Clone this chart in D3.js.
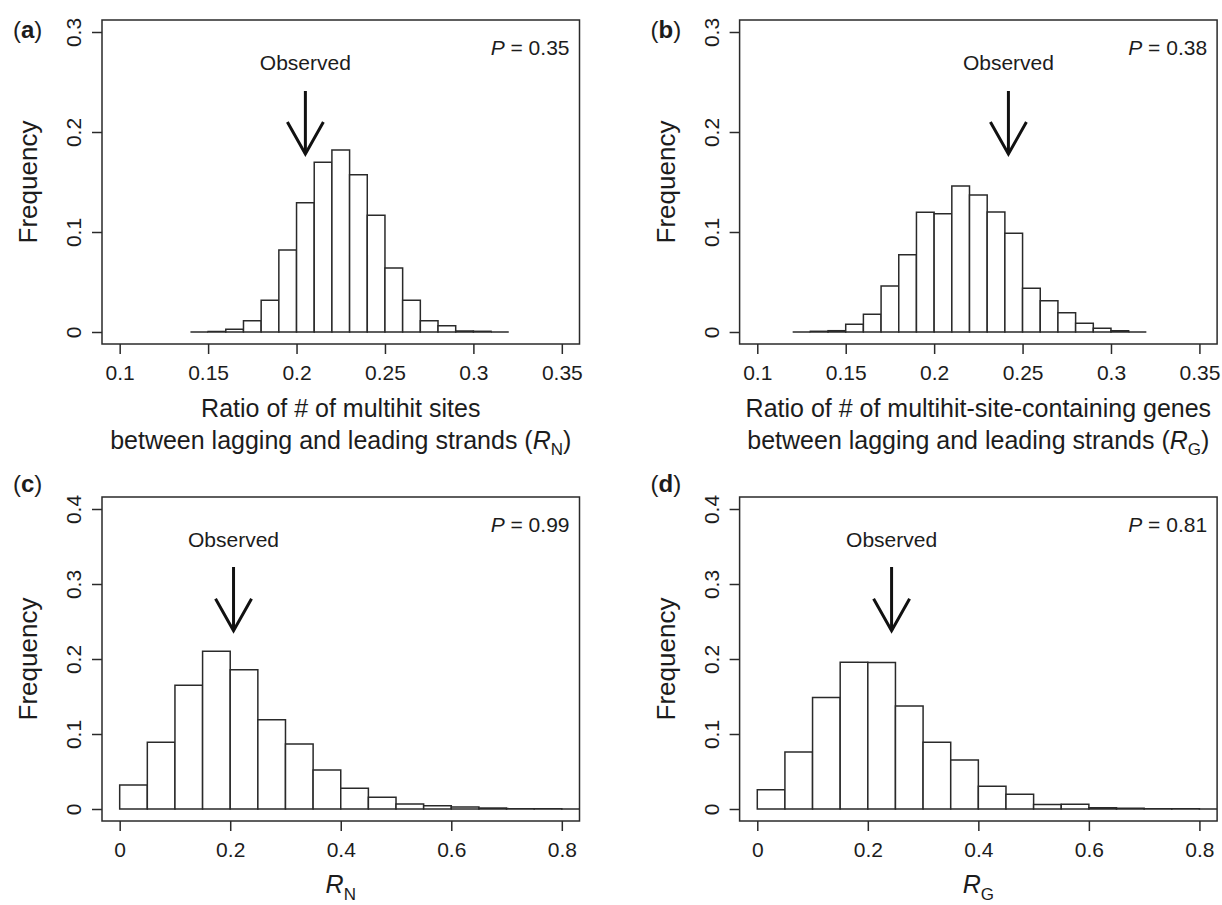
<!DOCTYPE html>
<html>
<head>
<meta charset="utf-8">
<script src="https://cdn.jsdelivr.net/npm/d3@7"></script>
<style>
  body { margin: 0; background: #fff; }
  text { font-family: "Liberation Sans", Arial, Helvetica, sans-serif; fill: #1c1c1c; }
</style>
</head>
<body>
<div id="chart"></div>
<script>
// ---- data ----
// (a) R_N, bins of 0.01
var edgesA = [0.14, 0.15, 0.16, 0.17, 0.18, 0.19, 0.20, 0.21, 0.22, 0.23, 0.24, 0.25, 0.26, 0.27, 0.28, 0.29, 0.30, 0.31, 0.32];
var freqA  = [0, 0.0005, 0.0027, 0.0113, 0.0317, 0.082, 0.1293, 0.1697, 0.182, 0.1573, 0.1167, 0.064, 0.0317, 0.0113, 0.0063, 0.001, 0.0007, 0];
// (b) R_G, bins of 0.01
var edgesB = [0.12, 0.13, 0.14, 0.15, 0.16, 0.17, 0.18, 0.19, 0.20, 0.21, 0.22, 0.23, 0.24, 0.25, 0.26, 0.27, 0.28, 0.29, 0.30, 0.31, 0.32];
var freqB  = [0, 0.0007, 0.0013, 0.0077, 0.0177, 0.046, 0.0773, 0.1197, 0.1183, 0.146, 0.137, 0.120, 0.0987, 0.0437, 0.0313, 0.0193, 0.0087, 0.0037, 0.0013, 0];
// (c) R_N, bins of 0.05
var edgesC = [0, 0.05, 0.10, 0.15, 0.20, 0.25, 0.30, 0.35, 0.40, 0.45, 0.50, 0.55, 0.60, 0.65, 0.70, 0.75, 0.80, 0.85];
var freqC  = [0.032, 0.089, 0.165, 0.2105, 0.1856, 0.119, 0.0868, 0.052, 0.0276, 0.0156, 0.0067, 0.0045, 0.0027, 0.0013, 0.0005, 0.0002, 0.0001];
// (d) R_G, bins of 0.05
var edgesD = [0, 0.05, 0.10, 0.15, 0.20, 0.25, 0.30, 0.35, 0.40, 0.45, 0.50, 0.55, 0.60, 0.65, 0.70, 0.75, 0.80, 0.85];
var freqD  = [0.0258, 0.076, 0.1486, 0.1958, 0.1954, 0.1375, 0.089, 0.0654, 0.0303, 0.0196, 0.006, 0.0062, 0.0018, 0.0009, 0.0004, 0.0002, 0.0001];

var xTicksTop = [0.1, 0.15, 0.2, 0.25, 0.3, 0.35];
var xLabelsTop = ["0.1", "0.15", "0.2", "0.25", "0.3", "0.35"];
var xTicksBot = [0, 0.2, 0.4, 0.6, 0.8];
var xLabelsBot = ["0", "0.2", "0.4", "0.6", "0.8"];
var yTicksTop = [0, 0.1, 0.2, 0.3];
var yLabelsTop = ["0", "0.1", "0.2", "0.3"];
var yTicksBot = [0, 0.1, 0.2, 0.3, 0.4];
var yLabelsBot = ["0", "0.1", "0.2", "0.3", "0.4"];

var panelLabels = ["a", "b", "c", "d"];
var pValues = ["0.35", "0.38", "0.99", "0.81"];
var observed = [0.205, 0.242, 0.206, 0.243];      // observed ratio (arrow x)
var obsTextY = [0.262, 0.262, 0.350, 0.350];      // "Observed" baseline
var arrowTop = [0.241, 0.241, 0.3227, 0.3227];
var arrowTip = [0.178, 0.178, 0.2377, 0.2377];

// ---- layout ----
var W = 1222, H = 905;
var ink = "#2a2a2a";
var svg = d3.select("#chart").append("svg").attr("width", W).attr("height", H);

var panels = [
  {x0: 102,   y0: 20,  edges: edgesA, freq: freqA, xDom: [0.1, 0.35], yDom: [0, 0.3], xt: xTicksTop, xl: xLabelsTop, yt: yTicksTop, yl: yLabelsTop, sub: "N", top: true,  labY: 38},
  {x0: 739.6, y0: 20,  edges: edgesB, freq: freqB, xDom: [0.1, 0.35], yDom: [0, 0.3], xt: xTicksTop, xl: xLabelsTop, yt: yTicksTop, yl: yLabelsTop, sub: "G", top: true,  labY: 38},
  {x0: 102,   y0: 497, edges: edgesC, freq: freqC, xDom: [0, 0.8],    yDom: [0, 0.4], xt: xTicksBot, xl: xLabelsBot, yt: yTicksBot, yl: yLabelsBot, sub: "N", top: false, labY: 492},
  {x0: 739.6, y0: 497, edges: edgesD, freq: freqD, xDom: [0, 0.8],    yDom: [0, 0.4], xt: xTicksBot, xl: xLabelsBot, yt: yTicksBot, yl: yLabelsBot, sub: "G", top: false, labY: 492}
];
var bw = 477.5, bh = 324;

function ext(dom) { var r = dom[1] - dom[0]; return [dom[0] - 0.04 * r, dom[1] + 0.04 * r]; }

panels.forEach(function (p, k) {
  var g = svg.append("g");
  var x = d3.scaleLinear().domain(ext(p.xDom)).range([p.x0, p.x0 + bw]);
  var y = d3.scaleLinear().domain(ext(p.yDom)).range([p.y0 + bh, p.y0]);

  var clipId = "clip" + k;
  svg.append("clipPath").attr("id", clipId).append("rect")
    .attr("x", p.x0).attr("y", p.y0).attr("width", bw).attr("height", bh);

  // histogram bars (zero bars still draw as a baseline)
  var bins = p.freq.map(function (f, i) { return {x1: p.edges[i], x2: p.edges[i + 1], f: f}; });
  g.append("g").attr("clip-path", "url(#" + clipId + ")")
    .selectAll("path").data(bins).enter().append("path")
    .attr("d", function (d) {
      return "M" + x(d.x1) + "," + y(0) + "V" + y(d.f) + "H" + x(d.x2) + "V" + y(0) + "Z";
    })
    .attr("fill", "#fff").attr("stroke", ink).attr("stroke-width", 1.5);

  // box
  g.append("rect").attr("x", p.x0).attr("y", p.y0).attr("width", bw).attr("height", bh)
    .attr("fill", "none").attr("stroke", ink).attr("stroke-width", 1.5);

  // x axis
  var xa = g.append("g").attr("transform", "translate(0," + (p.y0 + bh) + ")")
    .call(d3.axisBottom(x).tickValues(p.xt).tickSize(10).tickFormat(function (d, i) { return p.xl[i]; }));
  xa.select(".domain").remove();
  xa.selectAll("line").attr("stroke", ink).attr("stroke-width", 1.5);
  xa.selectAll("text").attr("y", 36).attr("dy", null)
    .style("font-size", "21px").style("font-family", "Liberation Sans, Arial, sans-serif").attr("fill", "#1c1c1c");

  // y axis (rotated labels, as in R)
  var ya = g.append("g").attr("transform", "translate(" + p.x0 + ",0)")
    .call(d3.axisLeft(y).tickValues(p.yt).tickSize(10).tickFormat(function (d, i) { return p.yl[i]; }));
  ya.select(".domain").remove();
  ya.selectAll("line").attr("stroke", ink).attr("stroke-width", 1.5);
  ya.selectAll("text").attr("x", null).attr("dy", null)
    .attr("transform", "translate(-21,0) rotate(-90)").attr("text-anchor", "middle")
    .style("font-size", "21px").style("font-family", "Liberation Sans, Arial, sans-serif").attr("fill", "#1c1c1c");

  // y title
  g.append("text").attr("transform", "translate(" + (p.x0 - 65) + "," + (p.y0 + bh / 2) + ") rotate(-90)")
    .attr("text-anchor", "middle").style("font-size", "26px").text("Frequency");

  // x title
  var cx = p.x0 + bw / 2, by = p.y0 + bh;
  if (p.top) {
    var l1 = k === 0 ? "Ratio of # of multihit sites" : "Ratio of # of multihit-site-containing genes";
    g.append("text").attr("x", cx).attr("y", by + 73).attr("text-anchor", "middle")
      .style("font-size", "25px").text(l1);
    var t2 = g.append("text").attr("x", cx).attr("y", by + 105).attr("text-anchor", "middle")
      .style("font-size", "25px");
    t2.append("tspan").text("between lagging and leading strands (");
    t2.append("tspan").style("font-style", "italic").text("R");
    t2.append("tspan").attr("dy", 6).style("font-size", "17px").text(p.sub);
    t2.append("tspan").attr("dy", -6).text(")");
  } else {
    var t3 = g.append("text").attr("x", cx).attr("y", by + 72).attr("text-anchor", "middle")
      .style("font-size", "25px");
    t3.append("tspan").style("font-style", "italic").text("R");
    t3.append("tspan").attr("dy", 7).style("font-size", "17px").text(p.sub);
  }

  // P value
  var pt = g.append("text").attr("x", p.x0 + bw - 10).attr("y", p.y0 + 35).attr("text-anchor", "end")
    .style("font-size", "21px");
  pt.append("tspan").style("font-style", "italic").text("P");
  pt.append("tspan").text(" = " + pValues[k]);

  // observed arrow
  var ax = x(observed[k]);
  g.append("text").attr("x", ax).attr("y", y(obsTextY[k])).attr("text-anchor", "middle")
    .style("font-size", "21px").text("Observed");
  g.append("line").attr("x1", ax).attr("x2", ax).attr("y1", y(arrowTop[k])).attr("y2", y(arrowTip[k]))
    .attr("stroke", "#111").attr("stroke-width", 3);
  var tipY = y(arrowTip[k]);
  g.append("path")
    .attr("d", "M" + (ax - 18) + "," + (tipY - 32) + "L" + ax + "," + tipY + "L" + (ax + 18) + "," + (tipY - 32))
    .attr("fill", "none").attr("stroke", "#111").attr("stroke-width", 3).attr("stroke-linejoin", "miter");

  // panel label
  var pl = g.append("text").attr("x", p.x0 - 89).attr("y", p.labY).style("font-size", "24px");
  pl.append("tspan").text("(");
  pl.append("tspan").style("font-weight", "bold").text(panelLabels[k]);
  pl.append("tspan").text(")");
});
</script>
</body>
</html>
